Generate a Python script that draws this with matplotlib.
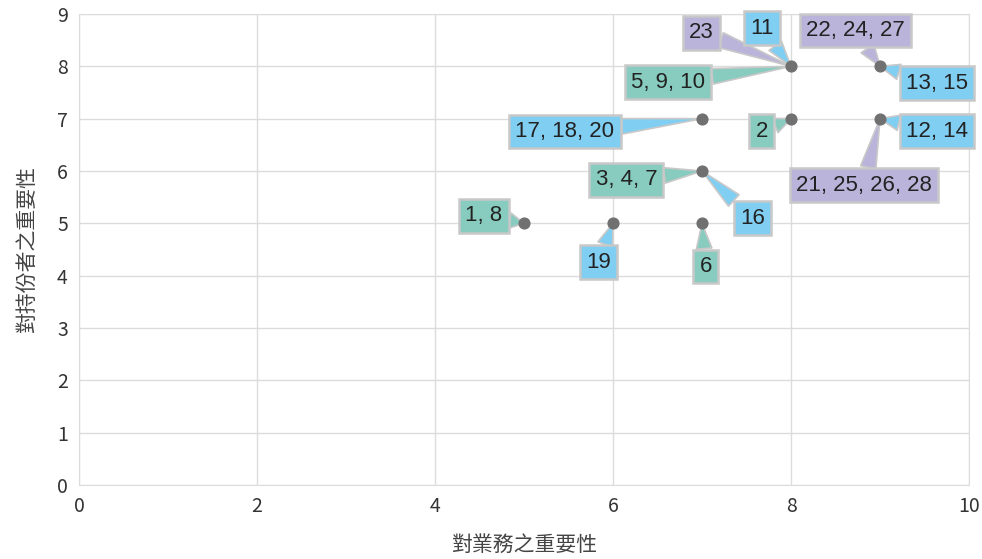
import matplotlib
matplotlib.use("Agg")
import matplotlib.pyplot as plt

plt.rcParams['font.family'] = ['Noto Sans CJK TC', 'DejaVu Sans']

# puntos (importancia negocio, importancia partes interesadas)
xs = [5, 6, 7, 7, 7, 8, 9, 8, 9]
ys = [5, 5, 5, 6, 7, 7, 7, 8, 8]

# etiquetas: punto x, punto y, texto, posición etiqueta x, y, color
lab_px = [5, 6, 7, 7, 7, 7, 8, 9, 9, 8, 8, 8, 9, 9]
lab_py = [5, 5, 5, 6, 6, 7, 7, 7, 7, 8, 8, 8, 8, 8]
lab_txt = ["1, 8", "19", "6", "3, 4, 7", "16", "17, 18, 20", "2", "12, 14",
           "21, 25, 26, 28", "23", "11", "5, 9, 10", "22, 24, 27", "13, 15"]
lab_tx = [4.55, 5.84, 7.04, 6.15, 7.57, 5.46, 7.67, 9.64, 8.82, 6.99, 7.67, 6.62, 8.72, 9.64]
lab_ty = [5.14, 4.26, 4.18, 5.83, 5.10, 6.75, 6.76, 6.76, 5.73, 8.64, 8.73, 7.70, 8.68, 7.68]
lab_col = ["g", "b", "g", "g", "b", "b", "g", "b", "p", "p", "b", "g", "p", "b"]

colores = {"g": "#88CCC0", "b": "#80CFF3", "p": "#BAB4DA"}

fig = plt.figure(figsize=(9.82, 5.59), dpi=100)
ax = fig.add_axes([0.0804, 0.1324, 0.9064, 0.8426])

ax.set_xlim(0, 10)
ax.set_ylim(0, 9)
ax.set_xticks(range(0, 11, 2))
ax.set_yticks(range(0, 10))
ax.grid(True, color="#DCDCDC", linewidth=1)
ax.set_axisbelow(True)
for s in ax.spines.values():
    s.set_color("#DCDCDC")
ax.tick_params(length=0, labelsize=14, colors="#333333", pad=8)

ax.scatter(xs, ys, s=60, color="#707070", zorder=6)

for px, py, t, tx, ty, c in zip(lab_px, lab_py, lab_txt, lab_tx, lab_ty, lab_col):
    fc = colores[c]
    ax.annotate(t, xy=(px, py), xytext=(tx, ty), fontsize=16,
                family=['Liberation Sans', 'DejaVu Sans'], color="#222222",
                ha="center", va="center", zorder=4,
                bbox=dict(boxstyle="square,pad=0.28", fc=fc, ec="#C8C8C8", lw=1.8),
                arrowprops=dict(arrowstyle="wedge,tail_width=0.7", fc=fc, ec="#C8C8C8",
                                lw=1.2, shrinkA=0, shrinkB=0))

ax.set_xlabel("對業務之重要性", fontsize=15, color="#444444", labelpad=12)
ax.set_ylabel("對持份者之重要性", fontsize=15, color="#444444", labelpad=14)

plt.savefig("out.png", dpi=100)
plt.close()
